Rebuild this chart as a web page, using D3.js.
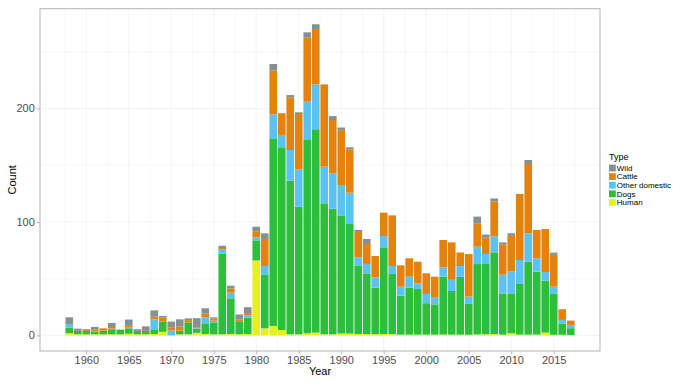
<!DOCTYPE html>
<html>
<head>
<meta charset="utf-8">
<script src="https://cdn.jsdelivr.net/npm/d3@7"></script>
<style>
  body { margin: 0; background: #fff; }
  svg { display: block; }
  text { font-family: "Liberation Sans", Arial, Helvetica, sans-serif; }
</style>
</head>
<body>
<svg id="chart" width="681" height="381"></svg>
<script>
// counts per year
const years = [
  1958, 1959, 1960, 1961, 1962, 1963, 1964, 1965, 1966, 1967,
  1968, 1969, 1970, 1971, 1972, 1973, 1974, 1975, 1976, 1977,
  1978, 1979, 1980, 1981, 1982, 1983, 1984, 1985, 1986, 1987,
  1988, 1989, 1990, 1991, 1992, 1993, 1994, 1995, 1996, 1997,
  1998, 1999, 2000, 2001, 2002, 2003, 2004, 2005, 2006, 2007,
  2008, 2009, 2010, 2011, 2012, 2013, 2014, 2015, 2016, 2017
];
const wild = [
  6, 2, 0, 2, 0, 3.5, 0, 5.5, 1.5, 4,
  5.6, 1.5, 5, 6.5, 1.5, 8, 4.4, 1, 2, 2.3,
  4.5, 5.9, 4, 5, 5.9, 0, 2, 1.5, 4.7, 5,
  0, 3.5, 2.3, 1.8, 1.8, 4.4, 0, 0, 0, 0,
  0, 0, 0, 0, 0, 0, 0, 0, 5.9, 2.4,
  2.6, 2, 2.3, 0, 3.5, 0, 0, 2, 0, 0
];
const cattle = [
  0, 0, 1.5, 1.5, 2, 1.5, 0, 1.2, 0, 0,
  2.3, 3.5, 2.8, 3.5, 2, 0.8, 3.5, 2, 1.5, 3.8,
  1.5, 1.5, 5.5, 23.8, 38.5, 19.1, 46.4, 48.8, 55.8, 47.9,
  72.5, 47, 49, 38.2, 22.3, 17.6, 18.8, 20.6, 44.6, 18.8,
  16.2, 19.1, 18.2, 18.5, 24.1, 33, 12, 37.4, 20.6, 14.7,
  30.8, 26.5, 31.4, 58.2, 61.1, 25, 37.9, 27.9, 9.4, 3.8
];
const otherDomestic = [
  3, 0, 0, 1, 0, 0.5, 0.3, 1, 0, 0,
  8.8, 0, 4.4, 0, 0, 0.5, 5.3, 1.5, 3.5, 5,
  0, 1.8, 2.5, 7.9, 21.1, 10.9, 27, 32.9, 34.4, 39.6,
  32.9, 31.1, 26.1, 27.6, 7.6, 8.8, 9.1, 10, 7, 7.9,
  9.7, 5, 8.2, 5.9, 8.2, 9.8, 9.4, 6.5, 15.3, 8.8,
  14.1, 16.5, 19.7, 21.1, 25, 11.7, 7.6, 6.5, 3.5, 2.9
];
const dogs = [
  5, 3, 3, 2, 3.3, 4.5, 4, 4.8, 3, 3,
  4.1, 9, 0, 3.2, 10.5, 3.6, 9.4, 10.5, 71, 31.4,
  11.5, 14.4, 17.7, 47, 165.3, 161, 135.4, 112.4, 170.3, 179.2,
  114.8, 110.7, 104, 96.5, 60, 53, 41, 76.4, 53, 34.4,
  41.4, 40.2, 27.7, 26.7, 51, 38.5, 51, 27.2, 62, 62,
  72, 36.3, 34.7, 44.6, 64.3, 55.5, 45.8, 36, 9.6, 6
];
const human = [
  2, 1, 1, 1, 1, 1, 1, 1.5, 1, 1,
  1.3, 3.2, 0, 1, 1, 2.3, 1.3, 1, 1, 1.3,
  1, 1.3, 66.1, 6.3, 8.4, 4.8, 1, 1, 1.9, 2.5,
  1, 1, 1.8, 1.7, 1.3, 1.2, 1.1, 1.2, 1.2, 0.7,
  0.7, 0.7, 0.7, 0.7, 0.8, 0.7, 0.7, 0.6, 0.9, 1,
  1.2, 0.7, 1.9, 0.8, 0.7, 0.8, 2.5, 0.6, 0.6, 0.4
];
const types = ["Wild", "Cattle", "Other domestic", "Dogs", "Human"];
const colors = ["#85918f", "#e3820c", "#5cc2f2", "#2dbe3b", "#e6ef1f"];
const xTicks = [1960, 1965, 1970, 1975, 1980, 1985, 1990, 1995, 2000, 2005, 2010, 2015];
const yTicks = [0, 100, 200];

const series = {
  "Wild": wild, "Cattle": cattle, "Other domestic": otherDomestic,
  "Dogs": dogs, "Human": human
};
const rows = years.map((yr, i) => {
  const r = { year: yr };
  types.forEach(t => r[t] = series[t][i]);
  return r;
});

const W = 681, H = 381;
const panel = { left: 40, right: 600, top: 8.7, bottom: 351 };

const svg = d3.select("#chart");
svg.append("rect").attr("width", W).attr("height", H).attr("fill", "#fff");

// ggplot-like continuous scales with 5% expansion
const barW = 0.9;
const x0 = years[0] - barW / 2, x1 = years[years.length - 1] + barW / 2;
const xPad = (x1 - x0) * 0.05;
const x = d3.scaleLinear().domain([x0 - xPad, x1 + xPad]).range([panel.left, panel.right]);

const stack = d3.stack().keys(types.slice().reverse());
const stacked = stack(rows);
const maxTotal = d3.max(rows, r => d3.sum(types, t => r[t]));
const y = d3.scaleLinear()
  .domain([-0.05 * maxTotal, maxTotal * 1.05])
  .range([panel.bottom, panel.top]);

const color = d3.scaleOrdinal().domain(types).range(colors);

// grid
const grid = svg.append("g");
const xMinor = xTicks.map(v => v - 2.5).concat([xTicks[xTicks.length - 1] + 2.5]);
const yMinor = [50, 150, 250];
grid.selectAll("line.xmin").data(xMinor).join("line")
  .attr("x1", d => x(d)).attr("x2", d => x(d))
  .attr("y1", panel.top).attr("y2", panel.bottom)
  .attr("stroke", "#f1f1f1").attr("stroke-width", 0.5);
grid.selectAll("line.ymin").data(yMinor).join("line")
  .attr("y1", d => y(d)).attr("y2", d => y(d))
  .attr("x1", panel.left).attr("x2", panel.right)
  .attr("stroke", "#f1f1f1").attr("stroke-width", 0.5);
grid.selectAll("line.xmaj").data(xTicks).join("line")
  .attr("x1", d => x(d)).attr("x2", d => x(d))
  .attr("y1", panel.top).attr("y2", panel.bottom)
  .attr("stroke", "#ececec").attr("stroke-width", 0.6);
grid.selectAll("line.ymaj").data(yTicks).join("line")
  .attr("y1", d => y(d)).attr("y2", d => y(d))
  .attr("x1", panel.left).attr("x2", panel.right)
  .attr("stroke", "#ececec").attr("stroke-width", 0.6);

// bars
svg.append("g")
  .selectAll("g")
  .data(stacked)
  .join("g")
  .attr("fill", d => color(d.key))
  .selectAll("rect")
  .data(d => d)
  .join("rect")
  .attr("x", d => x(d.data.year - barW / 2))
  .attr("width", d => x(d.data.year + barW / 2) - x(d.data.year - barW / 2))
  .attr("y", d => y(d[1]))
  .attr("height", d => Math.max(0, y(d[0]) - y(d[1])));

// panel border
svg.append("rect")
  .attr("x", panel.left).attr("y", panel.top)
  .attr("width", panel.right - panel.left).attr("height", panel.bottom - panel.top)
  .attr("fill", "none").attr("stroke", "#b3b3b3").attr("stroke-width", 1);

// axes
const xAxis = svg.append("g")
  .attr("transform", `translate(0,${panel.bottom})`)
  .call(d3.axisBottom(x).tickValues(xTicks).tickFormat(d3.format("d")).tickSize(3.2).tickPadding(2));
const yAxis = svg.append("g")
  .attr("transform", `translate(${panel.left},0)`)
  .call(d3.axisLeft(y).tickValues(yTicks).tickSize(3.2).tickPadding(2));
[xAxis, yAxis].forEach(a => {
  a.select(".domain").remove();
  a.selectAll(".tick line").attr("stroke", "#b3b3b3");
  a.selectAll(".tick text")
    .attr("fill", "#4d4d4d")
    .style("font-size", "11px")
    .style("font-family", '"Liberation Sans", Arial, sans-serif');
});

svg.append("text")
  .attr("x", (panel.left + panel.right) / 2).attr("y", 375)
  .attr("text-anchor", "middle").attr("font-size", 11).attr("fill", "#000")
  .text("Year");
svg.append("text")
  .attr("transform", `translate(15.5,${(panel.top + panel.bottom) / 2}) rotate(-90)`)
  .attr("text-anchor", "middle").attr("font-size", 11).attr("fill", "#000")
  .text("Count");

// legend
const legend = svg.append("g").attr("transform", "translate(609,0)");
legend.append("text").attr("x", 0).attr("y", 160)
  .attr("font-size", 9).attr("fill", "#000").text("Type");
const item = legend.selectAll("g.item").data(types).join("g")
  .attr("transform", (d, i) => `translate(0,${164 + i * 8.6})`);
item.append("rect").attr("width", 6.8).attr("height", 6.8)
  .attr("y", 0.6)
  .attr("fill", d => color(d));
item.append("text").attr("x", 7.8).attr("y", 6.8)
  .attr("font-size", 8).attr("fill", "#000").text(d => d);
</script>
</body>
</html>
